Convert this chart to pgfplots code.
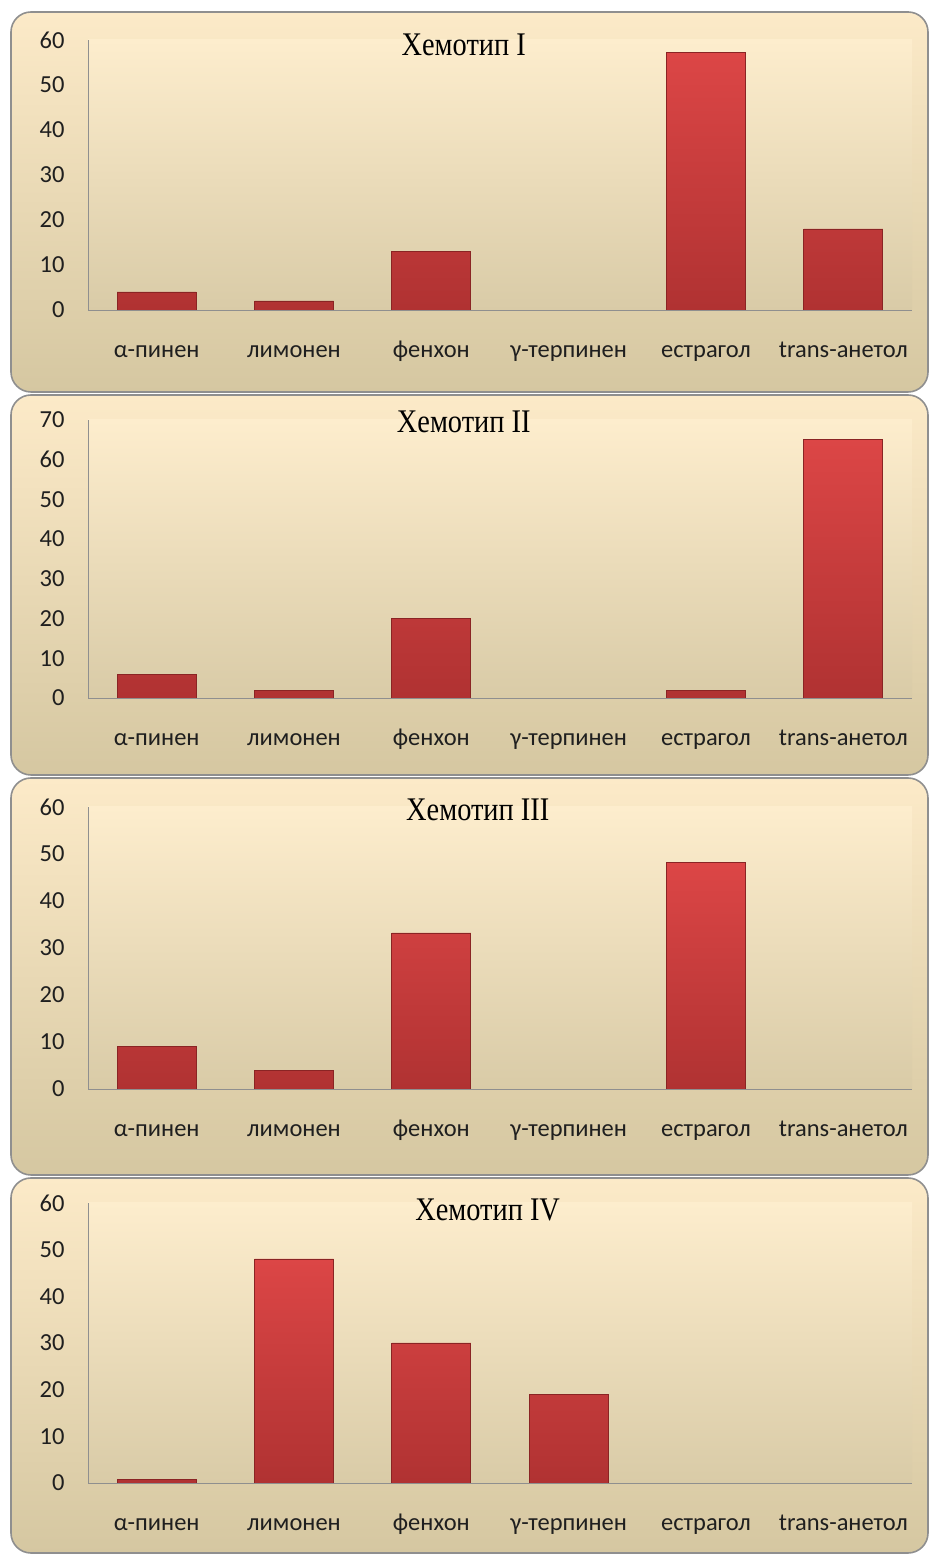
\documentclass[border=0pt]{standalone}
\usepackage{fontspec}
\setmainfont{Carlito}
\newfontfamily\titlefont{Liberation Serif}[FakeStretch=0.86]
\usepackage{pgfplots}
\pgfplotsset{compat=1.18}
\definecolor{barTop}{HTML}{DC4646}
\definecolor{barBot}{HTML}{B03232}
\definecolor{barEdge}{HTML}{8A2424}
\definecolor{bgTop}{HTML}{FCEAC8}
\definecolor{bgMid}{HTML}{F1E8D2}
\definecolor{bgBot}{HTML}{D5C7A1}
\definecolor{paTop}{HTML}{FDEDCD}
\definecolor{paMid}{HTML}{F2EAD6}
\definecolor{paBot}{HTML}{D9CBA7}
\definecolor{axgray}{HTML}{8F8F8F}
\pgfplotsset{
  chem/.style={
    scale only axis, width=824pt,
    xmin=-0.5, xmax=5.5, ymin=0,
    axis lines*=left,
    axis line style={draw=axgray, line width=0.9pt},
    major tick length=0pt,
    xtick={0,1,2,3,4,5},
    xticklabels={α-пинен, лимонен, фенхон, γ-терпинен, естрагол, trans-анетол},
    ytick distance=10,
    /pgf/number format/assume math mode=true,
    tick label style={font=\fontsize{24.5}{26}\selectfont, text=black!88},
    x tick label style={anchor=base, yshift=-48pt},
    y tick label style={xshift=-20pt},
    axis background/.style={shade, top color=paTop, middle color=paMid, bottom color=paBot},
    title style={font=\titlefont\fontsize{33}{35}\selectfont, anchor=center},
  },
  chembar/.style={ybar, bar width=79pt, draw=barEdge, line width=0.8pt,
    top color=barTop, bottom color=barBot},
}
\begin{document}
\begin{tikzpicture}[x=1pt,y=1pt]
\useasboundingbox (0,0) rectangle (930,1555);
\foreach \ya/\yb in {1163/1543, 780/1160, 380/777, 2/377}{
  \draw[draw=axgray, line width=1.6pt, rounded corners=20pt,
        top color=bgTop, middle color=bgMid, bottom color=bgBot]
        (11,\ya) rectangle (928,\yb);
}
% Panel I
\begin{axis}[chem, at={(88pt,1245pt)}, anchor=south west, height=270pt, ymax=60,
  title={Хемотип I}, title style={at={(axis description cs:0.456,0.958)}}]
\addplot[chembar] coordinates {(0,4) (1,2) (2,13) (4,57.3) (5,18)};
\end{axis}
% Panel II
\begin{axis}[chem, at={(88pt,857pt)}, anchor=south west, height=278pt, ymax=70,
  title={Хемотип II}, title style={at={(axis description cs:0.456,0.973)}}]
\addplot[chembar] coordinates {(0,6) (1,2) (2,20) (4,2) (5,65.2)};
\end{axis}
% Panel III
\begin{axis}[chem, at={(88pt,466pt)}, anchor=south west, height=282pt, ymax=60,
  title={Хемотип III}, title style={at={(axis description cs:0.473,0.970)}}]
\addplot[chembar] coordinates {(0,9) (1,4) (2,33.2) (4,48.2)};
\end{axis}
% Panel IV
\begin{axis}[chem, at={(88pt,72pt)}, anchor=south west, height=280pt, ymax=60,
  title={Хемотип IV}, title style={at={(axis description cs:0.485,0.955)}}]
\addplot[chembar] coordinates {(0,0.7) (1,48) (2,30) (3,19)};
\end{axis}
\end{tikzpicture}
\end{document}
